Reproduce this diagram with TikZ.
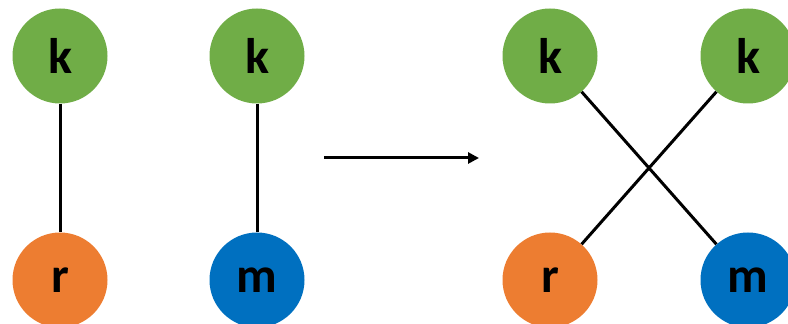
\documentclass[tikz,border=0pt]{standalone}
\usepackage{fontspec}
\setmainfont{Carlito}
\usetikzlibrary{arrows.meta}

\definecolor{kgreen}{HTML}{70AD47}
\definecolor{rorange}{HTML}{ED7D31}
\definecolor{mblue}{HTML}{0070C0}

\begin{document}
\begin{tikzpicture}[
            x=1pt, y=1pt,
            inner sep=0pt,
            every node/.style={circle,minimum size=95pt,font=\fontsize{50}{60}\bfseries\selectfont},
            link/.style={line width=3pt},
            ]
            \useasboundingbox (0,0) rectangle (788,324);
            % before
            \node[fill=kgreen] (k1) at (60, 268) {k};
            \node[fill=rorange] (r1) at (60, 44) {r};
            \node[fill=kgreen] (k2) at (257, 268) {k};
            \node[fill=mblue] (m1) at (257, 44) {m};
            \draw[link] (k1) -- (r1);
            \draw[link] (k2) -- (m1);
            % after
            \node[fill=kgreen] (k3) at (550, 268) {k};
            \node[fill=kgreen] (k4) at (748, 268) {k};
            \node[fill=rorange] (r2) at (550, 44) {r};
            \node[fill=mblue] (m2) at (748, 44) {m};
            \draw[link] (k3) -- (m2);
            \draw[link] (k4) -- (r2);

            \coordinate (a1) at (324, 166);
            \coordinate (a2) at (479, 166);
            \draw[-{Triangle[length=11pt,width=11pt]},line width=3pt] (a1) -- (a2);
        \end{tikzpicture}
\end{document}
